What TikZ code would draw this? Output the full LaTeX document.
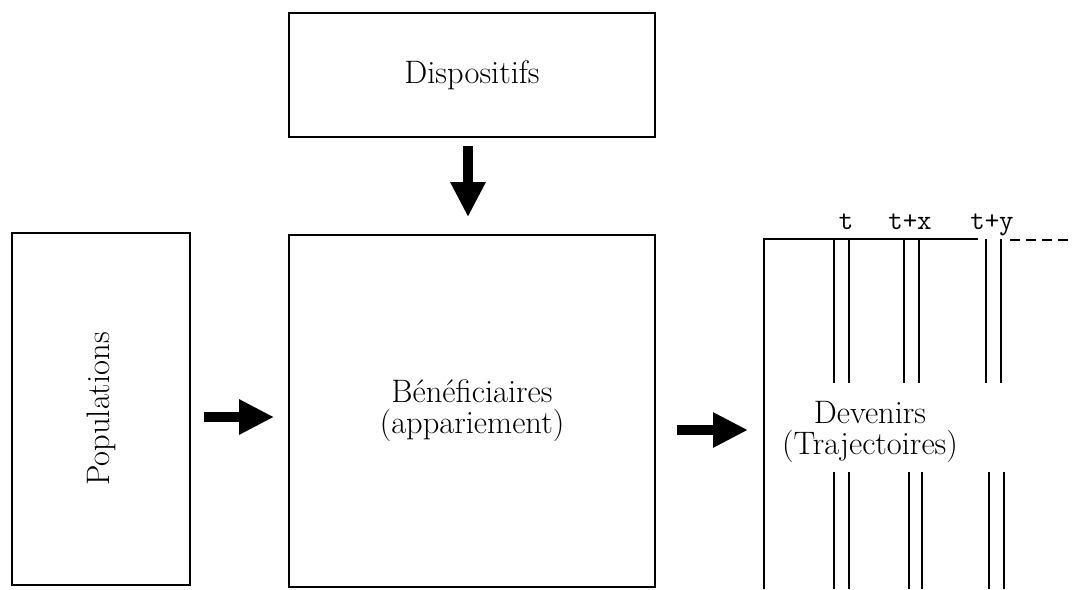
\documentclass[tikz,border=0pt]{standalone}
\usepackage{graphicx}
\usepackage{tikz}
\usetikzlibrary{arrows.meta}
\tikzset{
	box/.style={draw, rectangle, line width=1.1pt, inner sep=0pt, align=center, font=\fontsize{18.5}{17.5}\selectfont},
	bigarrow/.style={line width=0.2cm, -{Triangle[length=0.7cm, width=0.66cm]}},
	trace/.style={line width=1.5pt},
	tlabel/.style={anchor=base, inner sep=0pt, font=\fontsize{16}{18}\selectfont\ttfamily}
}

\begin{document}
\begin{tikzpicture}[x=0.02cm, y=-0.02cm]
		\useasboundingbox (0,0) rectangle (1073,589);
		
		% Boxes
		\node[box, minimum width=7.32cm, minimum height=2.48cm] (disp) at (472,75) {Dispositifs};
		\node[box, minimum width=3.56cm, minimum height=7.04cm] (pop) at (101,409) {\rotatebox{90}{Populations}};
		\node[box, minimum width=7.32cm, minimum height=7.04cm] (ben) at (472,411) {B\'en\'eficiaires\\(appariement)};
		
		% Devenirs (open frame)
		\coordinate (devbl) at (764,589);
		\coordinate (devtl) at (764,239);
		\coordinate (devtr) at (978,239);
		\coordinate (dashl) at (1010,240);
		\coordinate (dashr) at (1073,240);
		\coordinate (devin) at (764,430);
		\draw[line width=1.1pt] (devbl) -- (devtl) -- (devtr);
		\draw[line width=1.1pt, dash pattern=on 0.2cm off 0.12cm] (dashl) -- (dashr);
		\node[align=center, font=\fontsize{18.5}{17.5}\selectfont] (dev) at (870,432) {Devenirs\\(Trajectoires)};
		
		% Time traces
		\foreach \xa/\xb in {834/849, 904/919, 986/1001}
			\draw[trace] (\xa,239) -- (\xa,383) (\xb,239) -- (\xb,383);
		\foreach \xa/\xb in {834/849, 909/922, 989/1004}
			\draw[trace] (\xa,472) -- (\xa,589) (\xb,472) -- (\xb,589);
		
		% Labels
		\node[tlabel] (tt) at (846,229) {t};
		\node[tlabel] (ttx) at (910,229) {t+x};
		\node[tlabel] (tty) at (992,229) {t+y};
		
		% Arrows
		\draw[bigarrow, shorten <=0.16cm, shorten >=0.34cm] ([xshift=-0.08cm]disp.south) -- ([xshift=-0.08cm]ben.north);
		\draw[bigarrow, shorten <=0.26cm, shorten >=0.28cm] ([yshift=-0.16cm]pop.east) -- ([yshift=-0.16cm]pop.east -| ben.west);
		\draw[bigarrow, shorten <=0.42cm, shorten >=0.32cm] (ben.east |- devin) -- (devin);
	\end{tikzpicture}
\end{document}
